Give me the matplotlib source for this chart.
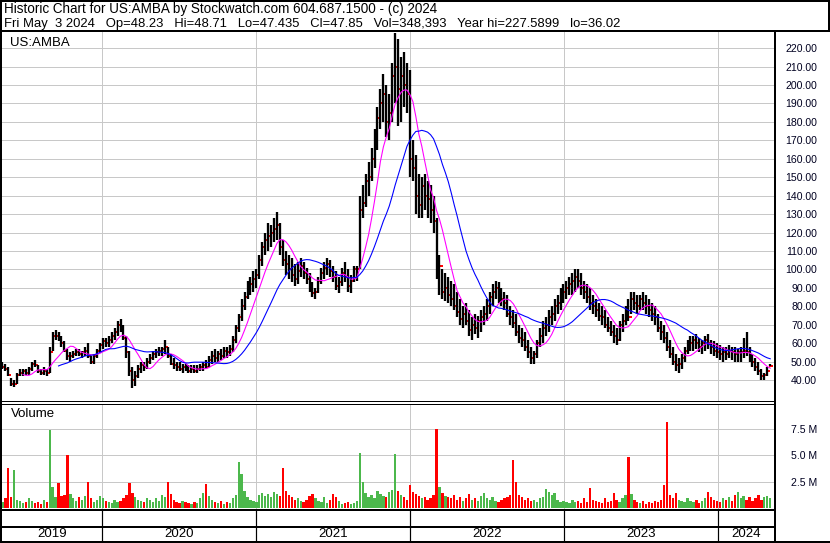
import numpy as np
import pandas as pd
import matplotlib
matplotlib.use("Agg")
import matplotlib.pyplot as plt
import matplotlib.dates as mdates
from matplotlib.lines import Line2D

plt.rcParams['font.family'] = ['Liberation Sans', 'DejaVu Sans']

# ---------------- data (weekly bars, US:AMBA) ----------------
weeks = pd.date_range('2019-05-10', '2024-05-03', freq='W-FRI')

wk_high = [
    50, 49, 47, 41, 40, 44, 46, 46, 46, 47,
    50, 51, 48, 46, 47, 46, 58, 66, 67, 66,
    64, 61, 57, 55, 56, 57, 57, 56, 58, 60,
    53, 54, 57, 60, 63, 63, 64, 66, 68, 72,
    73, 70, 64, 56, 47, 45, 48, 50, 50, 52,
    54, 56, 57, 58, 58, 62, 58, 54, 52, 50,
    50, 49, 49, 48, 48, 48, 48, 49, 50, 51,
    53, 56, 57, 56, 57, 58, 58, 59, 64, 70,
    76, 84, 88, 94, 96, 99, 100, 108, 115, 120,
    125, 124, 128, 131, 125, 116, 110, 108, 106, 103,
    104, 106, 104, 101, 98, 93, 90, 96, 101, 104,
    106, 105, 102, 99, 96, 101, 104, 100, 97, 102,
    102, 140, 146, 152, 158, 166, 176, 188, 198, 206,
    200, 195, 212, 228, 225, 215, 218, 212, 208, 170,
    162, 152, 150, 152, 148, 146, 140, 128, 108, 100,
    98, 96, 94, 92, 88, 84, 80, 82, 78, 74,
    76, 75, 78, 80, 84, 88, 92, 94, 93, 90,
    88, 86, 80, 78, 76, 70, 68, 66, 62, 58,
    56, 62, 68, 72, 74, 78, 80, 84, 86, 90,
    92, 94, 96, 98, 100, 100, 98, 94, 92, 90,
    86, 84, 82, 80, 78, 74, 72, 70, 68, 72,
    76, 80, 84, 88, 88, 86, 86, 88, 86, 84,
    82, 80, 76, 72, 70, 66, 62, 58, 54, 52,
    54, 58, 62, 64, 64, 65, 63, 62, 64, 65,
    62, 61, 60, 59, 58, 58, 59, 58, 58, 57,
    58, 63, 66, 58, 54, 52, 50, 46, 44, 47, 48.71,
]

wk_low = [
    46, 45, 42, 37, 36.5, 38, 42, 42, 43, 43,
    45, 47, 44, 43, 43, 42, 44, 56, 62, 61,
    58, 55, 51, 50, 52, 53, 53, 52, 53, 52,
    49, 49, 52, 55, 57, 58, 58, 60, 62, 64,
    66, 62, 52, 42, 36, 37, 41, 44, 45, 46,
    49, 51, 52, 53, 53, 54, 52, 48, 46, 45,
    45, 44, 45, 44, 44, 44, 44, 45, 45, 46,
    47, 49, 50, 50, 51, 52, 52, 53, 55, 60,
    66, 72, 78, 84, 86, 88, 90, 95, 102, 108,
    110, 112, 115, 116, 108, 102, 97, 95, 93, 91,
    92, 96, 95, 92, 88, 85, 84, 87, 92, 95,
    97, 96, 93, 89, 87, 91, 93, 88, 87, 93,
    94, 100, 128, 134, 140, 148, 155, 165, 176, 180,
    172, 170, 180, 190, 178, 180, 188, 185, 150, 148,
    130, 128, 128, 132, 128, 125, 120, 95, 86, 84,
    83, 82, 80, 78, 74, 70, 68, 70, 64, 62,
    65, 63, 66, 70, 72, 76, 80, 84, 82, 80,
    78, 74, 70, 68, 64, 60, 58, 56, 52, 49,
    49, 52, 58, 60, 64, 66, 70, 72, 76, 78,
    82, 84, 86, 86, 88, 90, 86, 84, 82, 78,
    76, 74, 72, 70, 68, 66, 64, 60, 59, 61,
    66, 70, 72, 76, 78, 76, 78, 78, 76, 74,
    72, 70, 66, 62, 60, 56, 52, 48, 45, 44,
    46, 50, 54, 56, 56, 57, 55, 54, 56, 57,
    54, 53, 52, 51, 50, 51, 52, 51, 50, 50,
    50, 52, 53, 50, 47, 45, 43, 40, 40, 42, 47.435,
]

wk_close = [
    47, 46, 43, 38, 38, 43, 44, 45, 44, 46,
    49, 48, 45, 44, 45, 44, 55, 64, 64, 62,
    60, 56, 53, 53, 54, 55, 54, 55, 56, 53,
    50, 53, 56, 59, 61, 60, 62, 64, 66, 70,
    69, 63, 55, 45, 40, 42, 46, 48, 47, 50,
    52, 54, 55, 56, 57, 58, 53, 49, 48, 47,
    46, 47, 46, 45, 46, 45, 46, 47, 48, 47,
    51, 53, 52, 54, 53, 56, 55, 57, 62, 68,
    74, 80, 85, 90, 92, 95, 97, 105, 112, 116,
    118, 120, 122, 124, 112, 105, 103, 100, 97, 95,
    99, 102, 98, 95, 90, 87, 88, 94, 98, 101,
    103, 99, 96, 91, 93, 98, 96, 91, 94, 100,
    100, 132, 136, 148, 150, 160, 170, 182, 190, 195,
    180, 185, 205, 210, 198, 205, 200, 195, 160, 155,
    140, 135, 145, 140, 138, 132, 126, 100, 102, 88,
    90, 86, 84, 80, 77, 73, 76, 72, 67, 70,
    68, 72, 74, 76, 80, 85, 88, 90, 86, 84,
    82, 76, 74, 71, 66, 63, 62, 58, 55, 52,
    54, 60, 64, 68, 70, 74, 76, 80, 82, 86,
    88, 90, 92, 94, 96, 94, 90, 88, 85, 82,
    80, 78, 75, 74, 70, 68, 66, 64, 62, 70,
    72, 76, 74, 84, 82, 80, 84, 82, 80, 78,
    76, 74, 68, 66, 63, 58, 54, 50, 48, 49,
    52, 56, 58, 60, 62, 60, 58, 60, 62, 60,
    58, 56, 55, 54, 55, 54, 56, 55, 54, 55,
    55, 56, 55, 52, 50, 47, 45, 42, 43, 45, 47.85,
]

# weekly volume, millions of shares
wk_volume = [
    0.6, 0.9, 3.8, 1.0, 3.6, 0.8, 0.7, 0.5, 0.6, 0.9,
    0.7, 0.5, 0.6, 0.4, 0.8, 0.6, 7.4, 2.0, 1.0, 2.4,
    1.1, 1.2, 5.0, 1.3, 0.9, 0.7, 1.0, 0.8, 1.1, 2.5,
    0.9, 0.6, 0.8, 1.1, 0.9, 0.7, 0.6, 0.5, 0.8, 0.6,
    0.7, 0.9, 1.2, 2.4, 1.4, 1.0, 0.8, 0.7, 0.6, 0.9,
    0.8, 0.6, 0.9, 0.7, 1.2, 1.0, 2.5, 1.3, 0.8, 0.6,
    0.5, 0.7, 0.6, 0.5, 0.4, 0.6, 0.5, 0.9, 1.4, 2.3,
    1.1, 0.8, 0.6, 0.5, 0.7, 0.4, 0.6, 0.5, 0.9, 1.2,
    4.4, 3.2, 1.6, 1.0, 0.8, 0.7, 0.6, 1.2, 1.4, 1.1,
    1.3, 1.0, 1.5, 1.3, 1.1, 3.8, 1.6, 1.2, 1.0, 0.8,
    0.9, 0.7, 0.6, 0.8, 1.1, 1.3, 0.9, 0.7, 0.6, 1.0,
    0.5, 0.8, 1.3, 1.0, 0.7, 0.4, 0.5, 0.6, 0.4, 0.5,
    0.7, 5.2, 2.5, 1.4, 1.0, 1.2, 0.9, 1.6, 1.3, 1.1,
    1.0, 1.5, 1.7, 5.1, 1.6, 1.2, 1.0, 0.8, 2.2, 1.5,
    1.3, 1.1, 0.9, 1.0, 0.8, 0.9, 1.2, 7.45, 2.0, 1.4,
    1.1, 1.0, 0.9, 1.2, 0.8, 1.0, 0.7, 0.9, 1.3, 0.8,
    0.9, 0.7, 1.1, 1.4, 0.9, 0.8, 1.0, 0.7, 0.6, 0.8,
    0.9, 1.0, 1.2, 4.5, 2.5, 1.2, 1.0, 0.8, 0.9, 0.7,
    0.8, 0.6, 0.9, 1.0, 1.8, 1.5, 1.2, 1.4, 0.8, 0.6,
    0.7, 0.6, 0.5, 0.8, 0.6, 0.7, 0.5, 0.9, 0.6, 1.9,
    0.8, 0.7, 0.6, 0.5, 0.9, 0.6, 0.7, 1.4, 0.8, 0.6,
    0.9, 1.2, 4.8, 1.3, 0.8, 0.6, 0.5, 0.7, 0.4, 0.6,
    0.5, 0.7, 0.6, 0.8, 2.2, 8.1, 1.2, 0.9, 1.4, 0.8,
    0.7, 0.6, 0.9, 0.7, 0.6, 0.8, 0.5, 0.7, 0.9, 1.5,
    1.0, 0.8, 0.7, 0.6, 0.9, 0.8, 1.0, 0.7, 1.2, 1.5,
    0.9, 1.1, 0.8, 1.0, 0.7, 0.9, 1.2, 0.8, 1.0, 1.1, 0.9,
]

price_ticks = list(range(40, 230, 10))
volume_ticks = [2.5, 5.0, 7.5]
volume_tick_labels = ['2.5 M', '5.0 M', '7.5 M']
years = [2019, 2020, 2021, 2022, 2023, 2024]

header_1 = "Historic Chart for US:AMBA by Stockwatch.com 604.687.1500 - (c) 2024"
header_2 = ("Fri May  3 2024   Op=48.23   Hi=48.71   Lo=47.435   Cl=47.85   "
            "Vol=348,393   Year hi=227.5899   lo=36.02")

# ---------------- layout helpers (pixel based) ----------------
W, H = 830, 543
DPI = 100
PX = 72.0 / DPI  # points per pixel

fig = plt.figure(figsize=(W / DPI, H / DPI), dpi=DPI, facecolor='white')


def rect(x0, y0, x1, y1):
    return [x0 / W, 1 - y1 / H, (x1 - x0) / W, (y1 - y0) / H]


def fig_line(xs, ys, lw=1, color='black'):
    fig.add_artist(Line2D([x / W for x in xs], [1 - y / H for y in ys],
                          lw=lw * PX, color=color, transform=fig.transFigure,
                          solid_capstyle='butt'))


x_start = pd.Timestamp('2019-05-09')
x_end = pd.Timestamp('2024-05-12')
year_edges = [pd.Timestamp(f'{y}-01-01') for y in years[1:]]
grid_col = '#c8c8c8'
up_col, down_col = '#4cb84c', '#ff0000'
label_fs = 7.6
text_fs = 9.5

dates = mdates.date2num(weeks)
close = np.array(wk_close, dtype=float)
high = np.array(wk_high, dtype=float)
low = np.array(wk_low, dtype=float)
vol = np.array(wk_volume, dtype=float)

# ---------------- price panel ----------------
ax = fig.add_axes(rect(2, 32, 774, 401))
ax.set_xlim(mdates.date2num(x_start), mdates.date2num(x_end))
ax.set_ylim(28.7, 228.7)
for s in ax.spines.values():
    s.set_visible(False)
for v in price_ticks:
    ax.axhline(v, color=grid_col, lw=1 * PX, zorder=0)
for d in year_edges:
    ax.axvline(mdates.date2num(d), color=grid_col, lw=1 * PX, zorder=0)

ax.plot(dates + 2.5, close, linestyle='none', marker='_', color='#ff0000',
        markersize=3, markeredgewidth=1.4, zorder=2)
ax.vlines(dates, low, high, color='black', lw=2.3 * PX, zorder=3)

sma_fast = pd.Series(close).rolling(8).mean()
sma_slow = pd.Series(close).rolling(20).mean()
ax.plot(dates, sma_fast, color='#ff00ff', lw=1.1 * PX, zorder=4)
ax.plot(dates, sma_slow, color='#0000ff', lw=1.1 * PX, zorder=4)

ax.set_xticks([])
ax.yaxis.tick_right()
ax.set_yticks(price_ticks)
ax.set_yticklabels([f'{v:.2f}' for v in price_ticks])
ax.tick_params(axis='y', length=0, pad=43 * PX, labelsize=label_fs)
for lbl in ax.get_yticklabels():
    lbl.set_horizontalalignment('right')
    lbl.set_color('#000020')
ax.text(8 / 772, 1 - 14 / 369, 'US:AMBA', transform=ax.transAxes,
        fontsize=text_fs, va='baseline', ha='left')

# ---------------- volume panel ----------------
axv = fig.add_axes(rect(2, 404, 774, 509))
axv.set_xlim(ax.get_xlim())
axv.set_ylim(-0.1, 9.85)
for s in axv.spines.values():
    s.set_visible(False)
for v in volume_ticks:
    axv.axhline(v, color=grid_col, lw=1 * PX, zorder=0)
for d in year_edges:
    axv.axvline(mdates.date2num(d), color=grid_col, lw=1 * PX, zorder=0)
prev = np.concatenate([[close[0]], close[:-1]])
colors = [up_col if c >= p else down_col for c, p in zip(close, prev)]
axv.bar(dates, vol, width=5.5, color=colors, bottom=0, align='center',
        zorder=2, linewidth=0)
axv.set_xticks([])
axv.yaxis.tick_right()
axv.set_yticks(volume_ticks)
axv.set_yticklabels(volume_tick_labels)
axv.tick_params(axis='y', length=0, pad=43 * PX, labelsize=label_fs)
for lbl in axv.get_yticklabels():
    lbl.set_horizontalalignment('right')
    lbl.set_color('#000020')
axv.text(9 / 772, 1 - 13 / 105, 'Volume', transform=axv.transAxes,
         fontsize=text_fs, va='baseline', ha='left')

# ---------------- year strip ----------------
axy = fig.add_axes(rect(2, 511, 774, 542))
axy.set_xlim(ax.get_xlim())
axy.set_ylim(0, 1)
axy.axis('off')
bounds = ([mdates.date2num(x_start)] + [mdates.date2num(d) for d in year_edges]
          + [mdates.date2num(x_end)])
for d in year_edges:
    axy.axvline(mdates.date2num(d), color='black', lw=1.2 * PX)
for y, a, b in zip(years, bounds[:-1], bounds[1:]):
    axy.text((a + b) / 2, 0.25, str(y), ha='center', va='center', fontsize=text_fs)

# ---------------- header ----------------
fig.text(4 / W, 1 - 13.5 / H, header_1, fontsize=9.75, va='baseline', ha='left')
fig.text(4 / W, 1 - 27.5 / H, header_2, fontsize=9.35, va='baseline', ha='left')

# ---------------- frame lines ----------------
fig_line([0, W], [1, 1], 2)
fig_line([0, W], [31, 31], 2)
fig_line([829, 829], [0, 31], 2)
fig_line([1, 1], [0, H], 2)
fig_line([775, 775], [31, H], 2)
fig_line([0, 775], [401, 401], 1)
fig_line([0, 775], [403.5, 403.5], 1)
fig_line([0, 775], [510, 510], 2)
fig_line([0, 775], [527, 527], 2)
fig_line([0, W], [542, 542], 2)

fig.savefig('out.png', dpi=DPI, facecolor='white')
